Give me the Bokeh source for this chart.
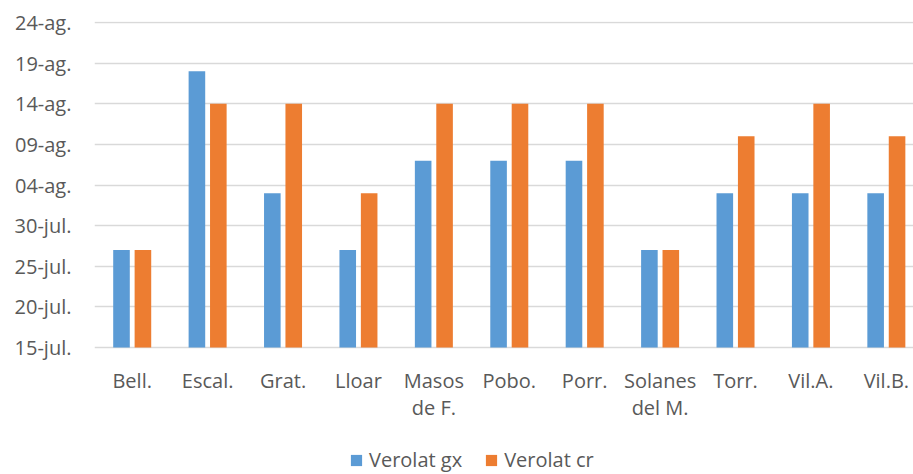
import numpy as np
import pandas as pd
from bokeh.plotting import figure
from bokeh.models import Range1d, FixedTicker, Legend, LegendItem, ColumnDataSource
from bokeh.embed import file_html
from bokeh.resources import INLINE

# ---- data ----
categories = ["Bell.", "Escal.", "Grat.", "Lloar", "Masos\nde F.", "Pobo.", "Porr.",
              "Solanes\ndel M.", "Torr.", "Vil.A.", "Vil.B."]
verolat_gx = ["2018-07-27", "2018-08-18", "2018-08-03", "2018-07-27", "2018-08-07", "2018-08-07",
              "2018-08-07", "2018-07-27", "2018-08-03", "2018-08-03", "2018-08-03"]
verolat_cr = ["2018-07-27", "2018-08-14", "2018-08-14", "2018-08-03", "2018-08-14", "2018-08-14",
              "2018-08-14", "2018-07-27", "2018-08-10", "2018-08-14", "2018-08-10"]
tick_dates = ["2018-07-15", "2018-07-20", "2018-07-25", "2018-07-30", "2018-08-04",
              "2018-08-09", "2018-08-14", "2018-08-19", "2018-08-24"]
tick_labels = ["15-jul.", "20-jul.", "25-jul.", "30-jul.", "04-ag.", "09-ag.", "14-ag.", "19-ag.", "24-ag."]
series_names = ["Verolat gx", "Verolat cr"]
colors = ["#5B9BD5", "#ED7D31"]

def to_ms(dates):
    return (pd.to_datetime(dates).astype("int64") // 10**6).tolist()

gx_ms = to_ms(verolat_gx)
cr_ms = to_ms(verolat_cr)
ticks_ms = to_ms(tick_dates)
base = ticks_ms[0]
day = 86400000

FONT = "Open Sans"
TXT = "#595959"

# frame spans the full height; the region below the 15-jul baseline holds the
# category labels and the legend
p = figure(width=913, height=474, output_backend="svg", toolbar_location=None,
           x_range=Range1d(-0.5, 10.36),
           y_range=Range1d(base - 15.63 * day, ticks_ms[-1] + 0.123 * day),
           min_border_left=94, min_border_right=0, min_border_top=21, min_border_bottom=0)
p.outline_line_color = None
p.background_fill_color = "white"
p.border_fill_color = "white"

idx = np.arange(len(categories))
off = 0.142
bw = 0.22
src_gx = ColumnDataSource(dict(x=idx - off, top=gx_ms, bottom=[base] * len(idx)))
src_cr = ColumnDataSource(dict(x=idx + off, top=cr_ms, bottom=[base] * len(idx)))
r1 = p.vbar(x="x", top="top", bottom="bottom", width=bw, source=src_gx,
            fill_color=colors[0], line_color=None)
r2 = p.vbar(x="x", top="top", bottom="bottom", width=bw, source=src_cr,
            fill_color=colors[1], line_color=None)

# axes
p.xaxis.fixed_location = base
p.xaxis.ticker = FixedTicker(ticks=idx.tolist())
p.xaxis.major_label_overrides = {int(i): c for i, c in zip(idx, categories)}
p.yaxis.ticker = FixedTicker(ticks=ticks_ms)
p.yaxis.major_label_overrides = {int(t): l for t, l in zip(ticks_ms, tick_labels)}
for ax in (p.xaxis, p.yaxis):
    ax.axis_line_color = None
    ax.major_tick_line_color = None
    ax.minor_tick_line_color = None
    ax.major_tick_out = 0
    ax.major_tick_in = 0
    ax.major_label_text_font = FONT
    ax.major_label_text_font_size = "20px"
    ax.major_label_text_color = TXT
p.xaxis.major_label_standoff = 19
p.xaxis.major_label_text_line_height = 1.02
p.yaxis.major_label_standoff = 23

p.xgrid.grid_line_color = None
p.ygrid.grid_line_color = "#D9D9D9"
p.ygrid.grid_line_width = 1.4

legend = Legend(items=[LegendItem(label=series_names[0], renderers=[r1]),
                       LegendItem(label=series_names[1], renderers=[r2])],
                orientation="horizontal", location=(255, 1),
                glyph_width=14, glyph_height=14, label_standoff=6, spacing=22,
                padding=0, margin=0, border_line_color=None, background_fill_alpha=0,
                label_text_font=FONT, label_text_font_size="20px", label_text_color=TXT)
p.add_layout(legend)

open("out.html", "w").write(file_html(p, INLINE))
